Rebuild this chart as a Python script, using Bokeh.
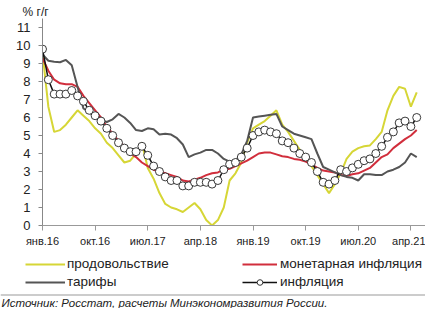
import pandas as pd
from bokeh.plotting import figure
from bokeh.layouts import column
from bokeh.models import (Range1d, Legend, LegendItem, Label, Span, FixedTicker,
                          SingleIntervalTicker, AllLabels)
from bokeh.embed import file_html
from bokeh.resources import INLINE

# ---- data (y/y, %) Jan 2016 .. May 2021 ----
months = list(pd.date_range("2016-01-01", periods=65, freq="MS").strftime("%Y-%m"))

food = [9.6, 6.6, 5.2, 5.3, 5.6, 6.0, 6.4, 6.1, 5.8, 5.4, 5.1, 4.6,
        4.3, 3.9, 3.5, 3.6, 4.0, 4.6, 3.2, 2.6, 1.8, 1.2, 1.0, 0.9,
        0.75, 1.0, 1.25, 0.9, 0.3, 0.0, 0.3, 1.0, 2.5, 2.9, 3.5, 4.6,
        5.4, 5.6, 5.8, 6.1, 6.4, 5.6, 5.2, 4.7, 4.2, 3.8, 3.3, 2.8,
        2.3, 1.8, 2.3, 2.9, 3.7, 4.1, 4.3, 4.4, 4.45, 4.8, 5.2, 6.4,
        7.2, 7.7, 7.6, 6.6, 7.4]

monetary = [9.3, 8.6, 8.1, 7.9, 7.85, 7.85, 7.7, 7.2, 6.8, 6.4, 6.0, 5.5,
            5.1, 4.7, 4.4, 4.0, 3.8, 3.5, 3.3, 3.1, 3.0, 2.9, 2.8, 2.7,
            2.5, 2.45, 2.55, 2.65, 2.8, 2.9, 2.95, 3.1, 3.15, 3.3, 3.45, 3.6,
            3.8, 4.0, 4.05, 4.05, 3.95, 3.85, 3.8, 3.7, 3.65, 3.55, 3.4, 3.2,
            3.05, 3.0, 2.95, 2.8, 2.75, 2.85, 2.9, 3.05, 3.2, 3.5, 3.8, 3.95,
            4.3, 4.55, 4.8, 5.0, 5.3]

tariffs = [9.5, 9.15, 9.1, 9.07, 9.2, 8.9, 7.7, 6.5, 6.3, 6.0, 5.85, 5.75,
           5.9, 6.2, 6.0, 5.7, 5.3, 5.25, 5.4, 5.35, 5.05, 5.1, 5.05, 4.85,
           4.5, 3.8, 3.95, 4.05, 4.2, 4.2, 4.0, 3.7, 3.55, 3.6, 3.95, 4.7,
           6.0, 6.05, 6.1, 6.15, 6.2, 5.5, 5.3, 5.1, 5.0, 4.9, 4.8, 4.0,
           3.25, 3.1, 2.95, 2.8, 2.7, 2.65, 2.5, 2.85, 2.85, 2.8, 2.8, 3.0,
           3.1, 3.25, 3.5, 4.0, 3.8]

inflation = [9.8, 8.1, 7.3, 7.3, 7.3, 7.5, 7.2, 6.9, 6.4, 6.1, 5.8, 5.4,
             5.0, 4.6, 4.3, 4.1, 4.1, 4.4, 3.9, 3.3, 3.0, 2.7, 2.5, 2.5,
             2.2, 2.2, 2.4, 2.4, 2.4, 2.3, 2.5, 3.1, 3.4, 3.5, 3.8, 4.3,
             5.0, 5.2, 5.3, 5.2, 5.1, 4.7, 4.6, 4.3, 4.0, 3.8, 3.5, 3.0,
             2.4, 2.3, 2.5, 3.1, 3.0, 3.2, 3.4, 3.6, 3.7, 4.0, 4.4, 4.9,
             5.2, 5.7, 5.8, 5.5, 6.0]

tick_idx = [0, 9, 18, 27, 36, 45, 54, 63]
tick_labels = ["янв.16", "окт.16", "июл.17", "апр.18", "янв.19", "окт.19", "июл.20", "апр.21"]

x = list(range(len(months)))
FONT = "Liberation Sans"
C_FOOD, C_MON, C_TAR, C_INF = "#d6d636", "#d12e3c", "#555555", "#111111"

# ---------------- main chart ----------------
p = figure(width=425, height=255, output_backend="svg", toolbar_location=None,
           x_range=Range1d(0, 65.5), y_range=Range1d(0, 11.5),
           min_border_left=42, min_border_right=0, min_border_top=18, min_border_bottom=30,
           title="% г/г")
p.frame_align = False
p.outline_line_color = None
p.xgrid.visible = False
p.ygrid.visible = False
p.title.align = "left"
p.title.offset = -20
p.title.text_font = FONT
p.title.text_font_size = "12px"
p.title.text_font_style = "normal"
p.title.text_color = "#222222"
p.title.standoff = 0

def draw_series(fig, visible=True):
    r_food = fig.line(x, food, line_color=C_FOOD, line_width=2, visible=visible)
    r_mon = fig.line(x, monetary, line_color=C_MON, line_width=2, visible=visible)
    r_tar = fig.line(x, tariffs, line_color=C_TAR, line_width=2, visible=visible)
    r_inf = fig.line(x, inflation, line_color=C_INF, line_width=1.5, visible=visible)
    r_pts = fig.scatter(x, inflation, size=8, marker="circle", fill_color="white",
                        line_color="#222222", line_width=0.9, visible=visible)
    return r_food, r_mon, r_tar, r_inf, r_pts

draw_series(p)

p.xaxis.ticker = FixedTicker(ticks=tick_idx)
p.xaxis.major_label_overrides = {i: l for i, l in zip(tick_idx, tick_labels)}
p.xaxis.minor_tick_line_color = None
p.xaxis.major_tick_in = 0
p.xaxis.major_tick_out = 5
p.xaxis.axis_line_color = "#999999"
p.xaxis.major_tick_line_color = "#999999"
p.xaxis.major_label_standoff = 4
p.xaxis.major_label_text_font = FONT
p.xaxis.major_label_text_font_size = "11px"
p.xaxis.major_label_text_color = "#222222"

p.yaxis.ticker = SingleIntervalTicker(interval=1, num_minor_ticks=0)
p.yaxis.major_label_policy = AllLabels()
p.yaxis.minor_tick_line_color = None
p.yaxis.major_tick_in = 0
p.yaxis.major_tick_out = 4
p.yaxis.axis_line_color = "#888888"
p.yaxis.major_tick_line_color = "#888888"
p.yaxis.major_label_standoff = 8
p.yaxis.major_label_text_font = FONT
p.yaxis.major_label_text_font_size = "13px"
p.yaxis.major_label_text_color = "#222222"

# ---------------- footer: legend + source ----------------
f = figure(width=425, height=53, output_backend="svg", toolbar_location=None,
           x_range=Range1d(0, 425), y_range=Range1d(0, 53),
           x_axis_location=None, y_axis_location=None,
           min_border=0, min_border_left=0, min_border_right=0,
           min_border_top=0, min_border_bottom=0)
f.frame_align = False
f.outline_line_color = None
f.grid.visible = False

# hidden copies of the series: only their legend glyphs are shown
l_food, l_mon, l_tar, l_inf, l_pts = draw_series(f, visible=False)

common = dict(padding=0, margin=0, spacing=3, label_height=14, glyph_height=14,
              border_line_color=None, background_fill_alpha=0, inactive_fill_alpha=0,
              label_text_font=FONT, label_text_font_size="13.5px", label_text_color="#222222")
leg1 = Legend(items=[LegendItem(label="продовольствие", renderers=[l_food]),
                     LegendItem(label="тарифы", renderers=[l_tar])],
              location=(25, 19), glyph_width=40, label_standoff=2, **common)
leg2 = Legend(items=[LegendItem(label="монетарная инфляция", renderers=[l_mon]),
                     LegendItem(label="инфляция", renderers=[l_inf, l_pts])],
              location=(242, 19), glyph_width=35, label_standoff=3, **common)
f.add_layout(leg1)
f.add_layout(leg2)

f.add_layout(Span(location=13.5, dimension="width", line_color="#999999", line_width=1))
f.add_layout(Label(x=1, y=6, text="Источник: Росстат, расчеты Минэкономразвития России.",
                   text_font=FONT, text_font_size="11.5px", text_font_style="italic",
                   text_color="#222222", text_baseline="middle"))

layout = column(p, f, spacing=0)
open("out.html", "w").write(file_html(layout, INLINE))
